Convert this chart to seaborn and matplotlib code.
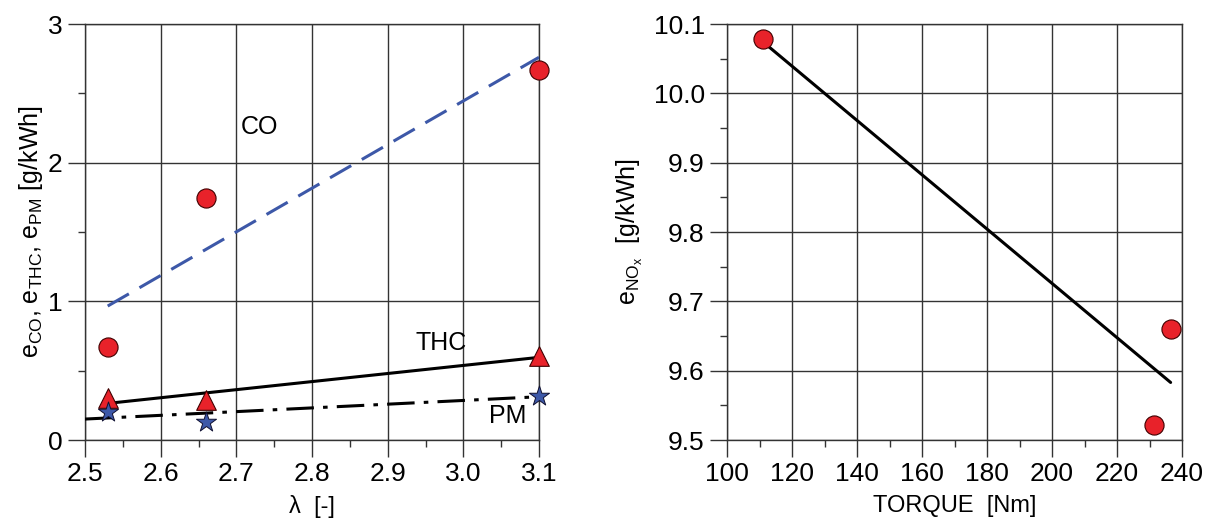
import numpy as np
import pandas as pd
import matplotlib
matplotlib.use("Agg")
import matplotlib.pyplot as plt
import seaborn as sns
from matplotlib.ticker import MultipleLocator, FormatStrFormatter

# ---------------- data ----------------
lam_pts = [2.53, 2.66, 3.10]
co_pts = [0.673, 1.745, 2.667]
thc_pts = [0.305, 0.285, 0.606]
pm_pts = [0.204, 0.130, 0.320]

co_fit_lam = [2.53, 3.10]
co_fit = [0.966, 2.76]
thc_fit_lam = [2.53, 3.10]
thc_fit = [0.264, 0.596]
pm_fit_lam = [2.50, 3.10]
pm_fit = [0.151, 0.312]

torque_pts = [111.0, 236.5, 231.5]
nox_pts = [10.078, 9.660, 9.521]
nox_fit_torque = [111.0, 236.5]
nox_fit = [10.0745, 9.583]

# ---------------- style ----------------
sns.set_style("white")
plt.rcParams["font.family"] = ["Liberation Sans", "DejaVu Sans"]
plt.rcParams["mathtext.fontset"] = "custom"
plt.rcParams["mathtext.rm"] = "Liberation Sans"
plt.rcParams["mathtext.it"] = "Liberation Sans"
plt.rcParams["mathtext.default"] = "regular"
plt.rcParams["text.color"] = "black"
plt.rcParams["axes.labelcolor"] = "black"

RED = "#E8222A"
BLUE = "#3D58A8"
GRIDC = "#333333"

fig = plt.figure(figsize=(12.05, 5.21), dpi=100)
ax1 = fig.add_axes([85 / 1205, 1 - 440 / 521, 454 / 1205, 416 / 521])
ax2 = fig.add_axes([727 / 1205, 1 - 440 / 521, 455 / 1205, 416 / 521])

# ---------------- left panel ----------------
df_pts = pd.DataFrame({"lam": lam_pts, "co": co_pts, "thc": thc_pts, "pm": pm_pts})

sns.lineplot(x=co_fit_lam, y=co_fit, ax=ax1, color=BLUE, lw=2.2,
             linestyle=(0, (8, 4)), zorder=3)
sns.lineplot(x=thc_fit_lam, y=thc_fit, ax=ax1, color="black", lw=2.2, zorder=3)
sns.lineplot(x=pm_fit_lam, y=pm_fit, ax=ax1, color="black", lw=2.2,
             linestyle=(0, (9, 3, 1.5, 3)), zorder=3)

sns.scatterplot(data=df_pts, x="lam", y="co", ax=ax1, marker="o", s=190,
                color=RED, edgecolor="#400000", linewidth=0.8, zorder=4, clip_on=False)
sns.scatterplot(data=df_pts, x="lam", y="thc", ax=ax1, marker="^", s=200,
                color=RED, edgecolor="#400000", linewidth=0.8, zorder=4, clip_on=False)
sns.scatterplot(data=df_pts, x="lam", y="pm", ax=ax1, marker="*", s=230,
                color=BLUE, edgecolor="#101030", linewidth=0.7, zorder=5, clip_on=False)

ax1.set_xlim(2.5, 3.1)
ax1.set_ylim(0, 3)
ax1.xaxis.set_major_locator(MultipleLocator(0.1))
ax1.xaxis.set_minor_locator(MultipleLocator(0.05))
ax1.yaxis.set_major_locator(MultipleLocator(1))
ax1.yaxis.set_minor_locator(MultipleLocator(0.5))
ax1.xaxis.set_major_formatter(FormatStrFormatter("%.1f"))
ax1.yaxis.set_major_formatter(FormatStrFormatter("%d"))
ax1.set_xlabel("λ  [-]", fontsize=17, labelpad=6)
ax1.set_ylabel(r"e$_{\mathrm{CO}}$, e$_{\mathrm{THC}}$, e$_{\mathrm{PM}}$ [g/kWh]",
               fontsize=18, labelpad=2)

ax1.text(2.73, 2.26, "CO", fontsize=18, ha="center", va="center")
ax1.text(2.971, 0.70, "THC", fontsize=18, ha="center", va="center")
ax1.text(3.058, 0.17, "PM", fontsize=18, ha="center", va="center")

# ---------------- right panel ----------------
df_nox = pd.DataFrame({"torque": torque_pts, "nox": nox_pts})
sns.lineplot(x=nox_fit_torque, y=nox_fit, ax=ax2, color="black", lw=2.2, zorder=3)
sns.scatterplot(data=df_nox, x="torque", y="nox", ax=ax2, marker="o", s=190,
                color=RED, edgecolor="#400000", linewidth=0.8, zorder=4, clip_on=False)

ax2.set_xlim(100, 240)
ax2.set_ylim(9.5, 10.1)
ax2.xaxis.set_major_locator(MultipleLocator(20))
ax2.xaxis.set_minor_locator(MultipleLocator(10))
ax2.yaxis.set_major_locator(MultipleLocator(0.1))
ax2.yaxis.set_minor_locator(MultipleLocator(0.05))
ax2.yaxis.set_major_formatter(FormatStrFormatter("%.1f"))
ax2.xaxis.set_major_formatter(FormatStrFormatter("%d"))
ax2.set_xlabel("TORQUE  [Nm]", fontsize=17, labelpad=6)
ax2.set_ylabel(r"e$_{\mathrm{NO}_{\mathrm{x}}}$  [g/kWh]", fontsize=18, labelpad=6)

# ---------------- common axis styling ----------------
for ax in (ax1, ax2):
    ax.grid(True, which="major", color=GRIDC, lw=1.0)
    ax.set_axisbelow(True)
    for sp in ax.spines.values():
        sp.set_visible(True)
        sp.set_color(GRIDC)
        sp.set_linewidth(1.0)
    ax.tick_params(which="major", direction="out", length=12, width=1.0,
                   color=GRIDC, labelcolor="black", labelsize=19, pad=4,
                   left=True, bottom=True)
    ax.tick_params(which="minor", direction="out", length=5, width=1.0,
                   color=GRIDC, left=True, bottom=True)
    ax.set_facecolor("white")

fig.savefig("out.png", dpi=100, facecolor="white")
